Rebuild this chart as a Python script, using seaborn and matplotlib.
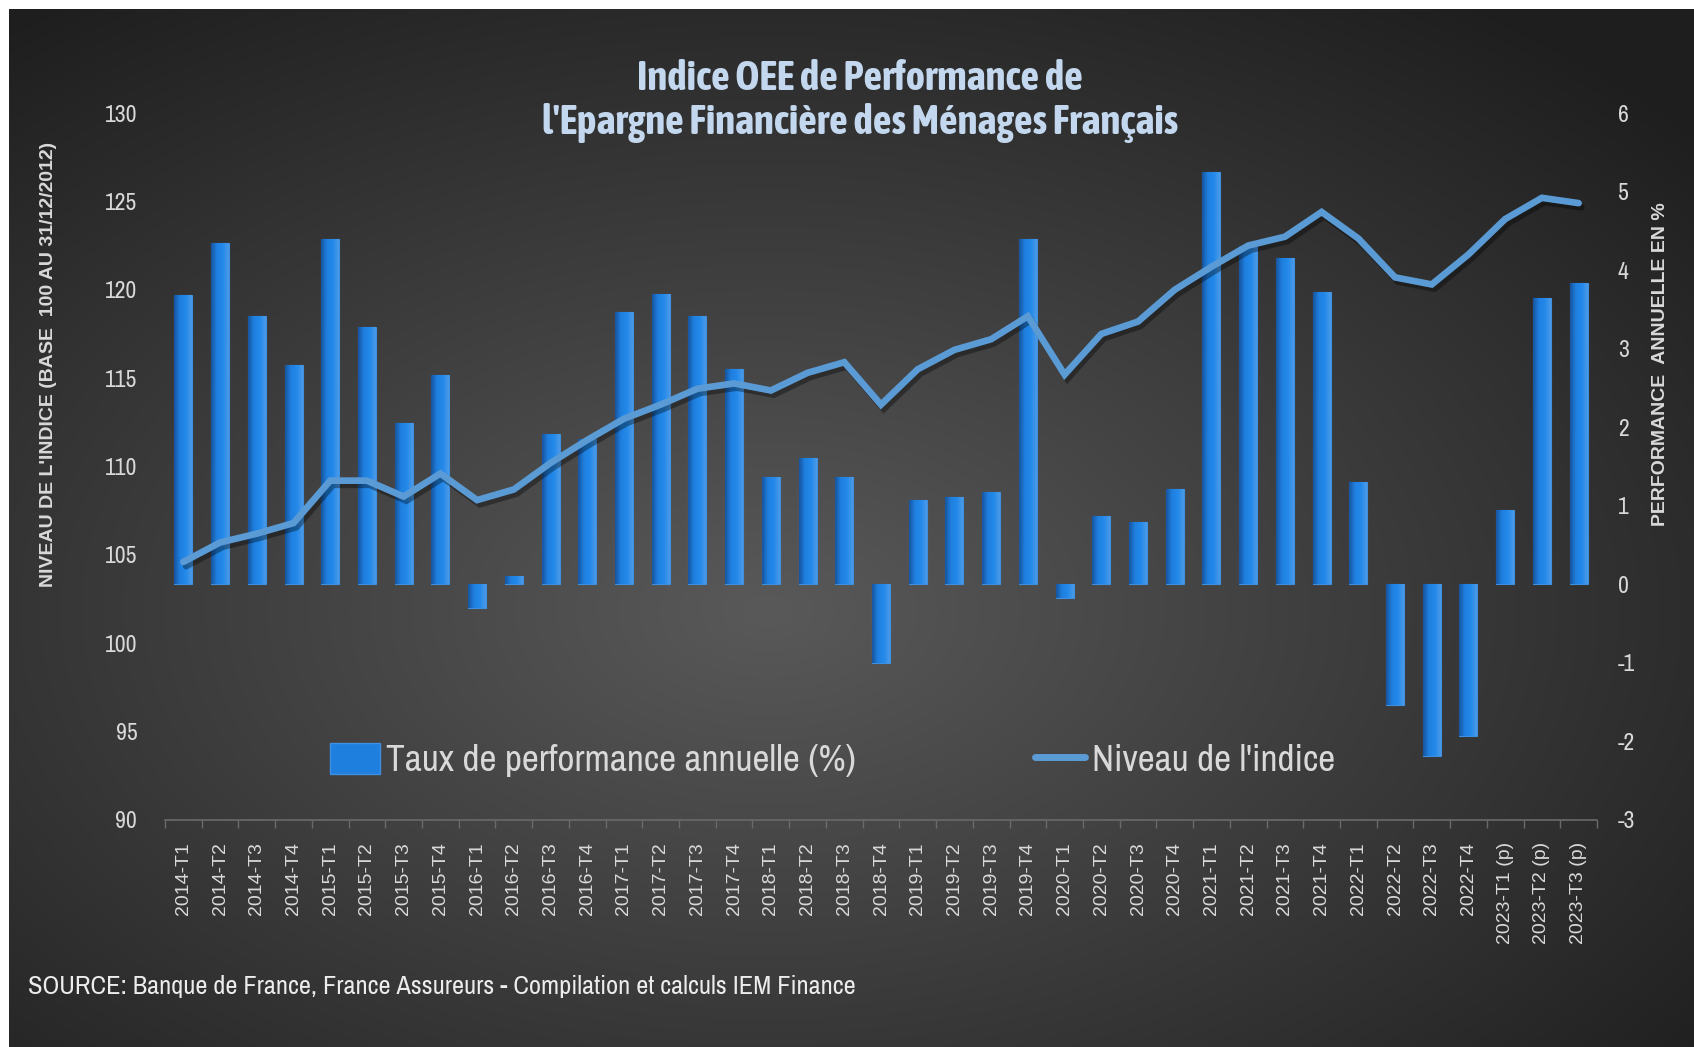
import numpy as np
import pandas as pd
import matplotlib
matplotlib.use('Agg')
import matplotlib.pyplot as plt
import matplotlib.patheffects as pe
from matplotlib import font_manager
from matplotlib.colors import LinearSegmentedColormap
from matplotlib.patches import Patch
from matplotlib.lines import Line2D
import seaborn as sns

# data
quarters = ['2014-T1', '2014-T2', '2014-T3', '2014-T4',
            '2015-T1', '2015-T2', '2015-T3', '2015-T4',
            '2016-T1', '2016-T2', '2016-T3', '2016-T4',
            '2017-T1', '2017-T2', '2017-T3', '2017-T4',
            '2018-T1', '2018-T2', '2018-T3', '2018-T4',
            '2019-T1', '2019-T2', '2019-T3', '2019-T4',
            '2020-T1', '2020-T2', '2020-T3', '2020-T4',
            '2021-T1', '2021-T2', '2021-T3', '2021-T4',
            '2022-T1', '2022-T2', '2022-T3', '2022-T4',
            '2023-T1 (p)', '2023-T2 (p)', '2023-T3 (p)']

perf = [3.68, 4.34, 3.42, 2.79,
        4.40, 3.28, 2.06, 2.66,
        -0.30, 0.11, 1.92, 1.85,
        3.47, 3.70, 3.41, 2.74,
        1.36, 1.61, 1.37, -1.00,
        1.07, 1.11, 1.18, 4.40,
        -0.17, 0.87, 0.79, 1.21,
        5.25, 4.31, 4.16, 3.72,
        1.30, -1.54, -2.18, -1.93,
        0.94, 3.65, 3.83]

index_level = [104.6, 105.7, 106.2, 106.8,
               109.2, 109.2, 108.3, 109.6,
               108.1, 108.7, 110.2, 111.5,
               112.7, 113.5, 114.4, 114.7,
               114.3, 115.3, 115.9, 113.5,
               115.5, 116.6, 117.2, 118.5,
               115.2, 117.5, 118.2, 120.0,
               121.3, 122.5, 123.0, 124.4,
               122.9, 120.7, 120.3, 122.0,
               124.0, 125.2, 124.9]

left_ticks = [90, 95, 100, 105, 110, 115, 120, 125, 130]
right_ticks = [-3, -2, -1, 0, 1, 2, 3, 4, 5, 6]

df = pd.DataFrame({'trimestre': quarters, 'perf': perf, 'niveau': index_level})

# condensed faces: first one found for plain text, one with a bold weight for the title
cands = {}
for f in font_manager.fontManager.ttflist:
    if 'Narrow' in f.name or 'Condensed' in f.name:
        w = f.weight if isinstance(f.weight, int) else font_manager.weight_dict.get(f.weight, 400)
        cands.setdefault(f.name, set()).add(w)
if cands:
    reg_fam, shrink = list(cands)[0], 1.0
    bold_ok = [n for n in cands if max(cands[n]) >= 600]
    bold_fam = bold_ok[0] if bold_ok else reg_fam
    title_size = 29.5 if bold_ok else 28
else:
    reg_fam = bold_fam = 'Liberation Sans'
    shrink, title_size = 0.84, 22
narrow = dict(family=reg_fam)
plain = ['Liberation Sans', 'DejaVu Sans']
txt_col = '#d9d9d9'
bar_col = '#1f7fdf'
line_col = '#5b9bd5'

W, H = 1694, 1047
fig = plt.figure(figsize=(W / 100, H / 100), dpi=100, facecolor='white')

# radial dark gradient background
bg = fig.add_axes([9 / W, 0, 1 - 9 / W, 1 - 9 / H])
yy, xx = np.mgrid[0:1:400j, 0:1:700j]
r = np.sqrt(((xx - 0.45) / 0.75) ** 2 + ((yy - 0.58) / 0.75) ** 2)
shade = np.clip(0.35 - 0.24 * r, 0.12, 0.35)
bg.imshow(np.dstack([shade] * 3), aspect='auto', extent=[0, 1, 0, 1], origin='upper')
bg.axis('off')

ax = fig.add_axes([165 / W, 1 - 820 / H, (1597 - 165) / W, (820 - 113) / H])
ax.patch.set_alpha(0)

# bars (right scale)
sns.barplot(data=df, x='trimestre', y='perf', ax=ax, color=bar_col, width=0.49,
            saturation=1, edgecolor='#3f8fe0', linewidth=0.8)

# shaded fill inside each bar, to get the bevelled look
bar_cmap = LinearSegmentedColormap.from_list('bev', ['#16549e', '#1f80e0', '#2389ea', '#4a9ae6'])
grad = np.linspace(0, 1, 64)[None, :]
for p in list(ax.patches):
    x0, y0 = p.get_x(), p.get_y()
    w, h = p.get_width(), p.get_height()
    im = ax.imshow(grad, cmap=bar_cmap, aspect='auto', interpolation='bilinear',
                   extent=[x0, x0 + w, min(y0, y0 + h), max(y0, y0 + h)], zorder=p.get_zorder() + 0.1)
    im.set_clip_path(p)

ax.set_ylim(-3, 6)
ax.set_xlabel('')
ax.set_xlim(-0.5, len(quarters) - 0.5)
ax.set_xticks(range(len(quarters)))
ax.set_xticklabels(quarters, rotation=90, family=plain, fontsize=14, color=txt_col)
ax.set_xticks(np.arange(-0.5, len(quarters), 1), minor=True)
ax.tick_params(axis='x', which='major', length=0, pad=16)
ax.tick_params(axis='x', which='minor', length=6, color='#6a6a6a', width=1)
for s in ['top', 'left', 'right']:
    ax.spines[s].set_visible(False)
ax.spines['bottom'].set_color('#6a6a6a')
ax.spines['bottom'].set_linewidth(1.2)

# index line (left scale)
ax2 = ax.twinx()
sns.lineplot(x=np.arange(len(quarters)), y=df['niveau'], ax=ax2, color=line_col,
             linewidth=4.8, solid_joinstyle='miter', solid_capstyle='round')
ax2.lines[0].set_path_effects([pe.SimpleLineShadow(offset=(2, -3), shadow_color='black', alpha=0.35),
                                pe.Normal()])
ax2.set_ylim(90, 130)
for s in ax2.spines.values():
    s.set_visible(False)

# swap sides: bar scale on the right, index scale on the left
ax.yaxis.tick_right()
ax.set_yticks(right_ticks)
ax.set_yticklabels([str(t) for t in right_ticks], fontsize=17 * shrink, color=txt_col, **narrow)
ax.tick_params(axis='y', length=0, pad=15)
ax.set_ylabel('PERFORMANCE  ANNUELLE EN %', family=plain, fontweight='bold',
              fontsize=14, color=txt_col, rotation=90, va='center')
ax.yaxis.set_label_coords(1.044, 0.645)

ax2.yaxis.tick_left()
ax2.set_yticks(left_ticks)
ax2.set_yticklabels([str(t) for t in left_ticks], fontsize=17 * shrink, color=txt_col, **narrow)
ax2.tick_params(axis='y', length=0, pad=20)
ax2.set_ylabel("NIVEAU DE L'INDICE (BASE  100 AU 31/12/2012)", family=plain,
               fontweight='bold', fontsize=14, color=txt_col, va='center')
ax2.yaxis.set_label_coords(-0.0817, 0.645)

handles = [Patch(facecolor=bar_col, edgecolor='#3f8fe0'),
           Line2D([0], [0], color=line_col, lw=5, solid_capstyle='round')]
ax2.legend(handles, ['Taux de performance annuelle (%)', "Niveau de l'indice"],
           loc='center', bbox_to_anchor=(0.466, 0.085), ncol=2, frameon=False,
           prop=dict(size=26.8 * shrink, **narrow), labelcolor=txt_col,
           handlelength=1.35, handleheight=0.9, handletextpad=0.18, columnspacing=4.8)

fig.text(860 / W, 1 - 79 / H, 'Indice OEE de Performance de', ha='center', va='center',
         family=bold_fam, fontweight='bold', fontsize=title_size, color='#c3d8ef')
fig.text(860 / W, 1 - 123 / H, "l'Epargne Financière des Ménages Français", ha='center',
         va='center', family=bold_fam, fontweight='bold', fontsize=title_size, color='#c3d8ef')
fig.text(28 / W, 1 - 987 / H,
         'SOURCE: Banque de France, France Assureurs - Compilation et calculs IEM Finance',
         ha='left', va='center', fontsize=19 * shrink, color='#ececec', **narrow)

fig.savefig('out.png', dpi=100, facecolor='white')
